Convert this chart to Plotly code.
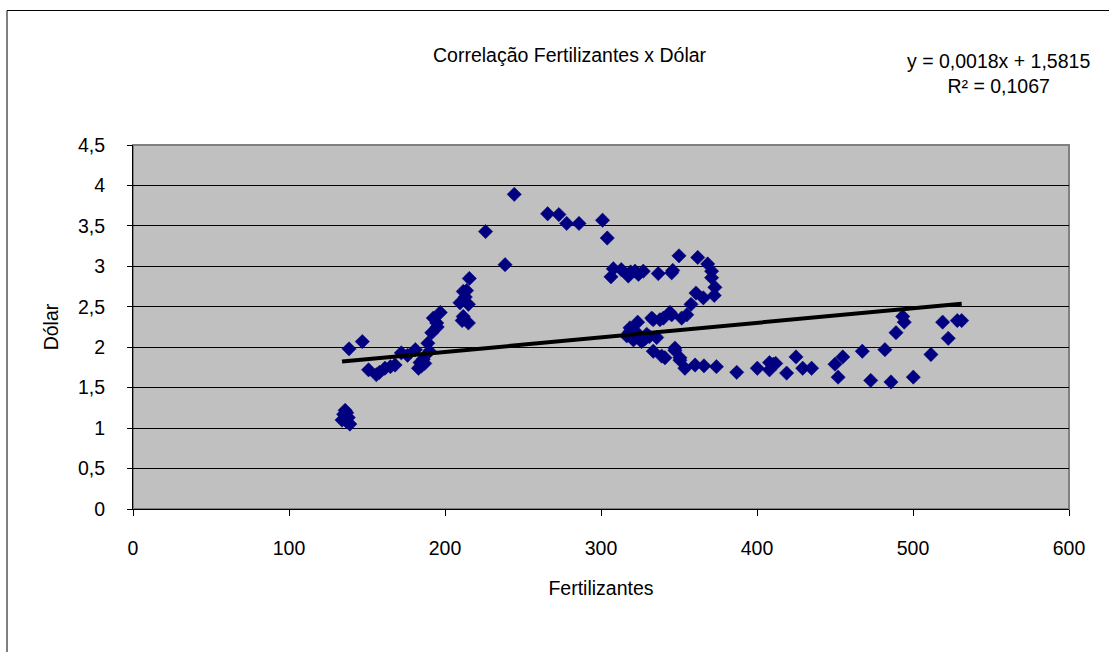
import plotly.graph_objects as go

fertilizantes = [
    134, 135, 136, 137, 138, 139, 137,
    138.5, 147, 151, 156, 158, 161.5, 165, 168, 172, 176, 181, 183, 184, 185, 186, 187,
    189, 190, 191.5, 192.5, 194.7, 197, 195,
    209.6, 211.7, 211, 211.7, 213.8, 215, 215, 215.6, 213,
    226, 238.5, 244.4, 265.8, 273, 278, 285.9, 301, 304,
    306.4, 307.9, 313, 317.5, 319, 321.8, 324, 327.1, 336.7, 345.3, 346,
    350, 362, 368.4, 370.9, 370.9, 373, 372.6, 365.6, 360.9, 357.7, 355, 351.7, 345.3,
    344.2, 340, 337.8, 333.5, 332.5, 323.5, 318.6,
    316.5, 320.8, 326, 329.3, 322.9, 335.7, 318, 324, 328, 331, 319,
    333.5, 338.9, 341, 347.4, 347.4, 350.6, 350.6, 353.8, 360.3, 366, 374, 387,
    400.2, 408, 410.5, 408, 412, 419, 425, 429.3, 435, 450, 455, 452, 467.5, 472.9,
    482, 485.9, 489.1, 493.4, 494.4, 500.2, 511.5, 519, 522.6, 528.4, 531.2,
]
dolar = [
    1.10, 1.17, 1.22, 1.19, 1.13, 1.05, 1.08,
    1.98, 2.07, 1.72, 1.66, 1.69, 1.74, 1.76, 1.78, 1.93, 1.90, 1.97, 1.74, 1.81, 1.77, 1.85, 1.80,
    2.05, 1.95, 2.18, 2.36, 2.30, 2.43, 2.25,
    2.55, 2.38, 2.33, 2.69, 2.70, 2.53, 2.30, 2.85, 2.62,
    3.43, 3.02, 3.89, 3.65, 3.64, 3.53, 3.53, 3.57, 3.35,
    2.87, 2.97, 2.96, 2.88, 2.93, 2.94, 2.90, 2.94, 2.91, 2.92, 2.95,
    3.13, 3.11, 3.03, 2.94, 2.86, 2.74, 2.64, 2.61, 2.67, 2.53, 2.40, 2.36, 2.40,
    2.43, 2.36, 2.34, 2.34, 2.36, 2.31, 2.24,
    2.14, 2.09, 2.07, 2.16, 2.18, 2.12, 2.18, 2.12, 2.10, 2.13, 2.20,
    1.95, 1.89, 1.87, 1.99, 1.96, 1.87, 1.84, 1.74, 1.78, 1.77, 1.76, 1.69,
    1.74, 1.81, 1.79, 1.72, 1.80, 1.68, 1.88, 1.74, 1.74, 1.79, 1.88, 1.63, 1.95, 1.59,
    1.97, 1.57, 2.18, 2.38, 2.31, 1.63, 1.91, 2.31, 2.11, 2.33, 2.33,
]

slope = 0.0018
intercept = 1.5815
r2_text = "0,1067"

title_text = "Correlação Fertilizantes x Dólar"
x_title = "Fertilizantes"
y_title = "Dólar"
x_ticks = [0, 100, 200, 300, 400, 500, 600]
y_ticks = [0, 0.5, 1, 1.5, 2, 2.5, 3, 3.5, 4, 4.5]
y_tick_labels = ["0", "0,5", "1", "1,5", "2", "2,5", "3", "3,5", "4", "4,5"]

FONT = "Liberation Sans, Arial, sans-serif"
FS = 19.5

trend_x = [min(fertilizantes), max(fertilizantes)]
trend_y = [slope * v + intercept for v in trend_x]

fig = go.Figure()
fig.add_trace(go.Scatter(
    x=fertilizantes, y=dolar, mode="markers",
    marker=dict(symbol="diamond", size=11, color="#000080",
                line=dict(color="#000080", width=0.5)),
    showlegend=False,
))
fig.add_trace(go.Scatter(
    x=trend_x, y=trend_y, mode="lines",
    line=dict(color="#000000", width=4),
    showlegend=False,
))

fig.update_layout(
    width=1109, height=652,
    margin=dict(l=133, r=40, t=145, b=143),
    paper_bgcolor="white",
    plot_bgcolor="#C0C0C0",
    font=dict(family=FONT, size=FS, color="#000000"),
    showlegend=False,
    xaxis=dict(
        range=[0, 600], tickvals=x_ticks, ticktext=[str(v) for v in x_ticks],
        showgrid=False, zeroline=False,
        showline=True, linecolor="#000000", linewidth=1,
        ticks="outside", ticklen=6, tickcolor="#000000",
        ticklabelstandoff=16,
        title=dict(text=x_title, standoff=22, font=dict(size=FS)),
        fixedrange=True,
    ),
    yaxis=dict(
        range=[0, 4.5], tickvals=y_ticks, ticktext=y_tick_labels,
        showgrid=True, gridcolor="#000000", gridwidth=1,
        zeroline=False,
        showline=True, linecolor="#000000", linewidth=1,
        ticks="outside", ticklen=5, tickcolor="#000000",
        ticklabelstandoff=18,
        title=dict(text=y_title, standoff=14, font=dict(size=FS)),
        fixedrange=True,
    ),
    shapes=[
        dict(type="rect", xref="paper", yref="paper", x0=0, x1=1, y0=0, y1=1,
             line=dict(color="#808080", width=2), layer="below"),
        dict(type="rect", xref="paper", yref="paper",
             x0=(7 - 133) / 936, x1=(1115 - 133) / 936,
             y0=(509 - 660) / 364, y1=(509 - 10.5) / 364,
             line=dict(color="#000000", width=1), layer="below"),
    ],
    annotations=[
        dict(text=title_text, xref="paper", yref="paper",
             x=(570 - 133) / 936, y=(509 - 55) / 364,
             xanchor="center", yanchor="middle", showarrow=False,
             font=dict(size=FS)),
        dict(text=f"y = {str(slope).replace('.', ',')}x + {str(intercept).replace('.', ',')}<br>R² = {r2_text}",
             xref="paper", yref="paper",
             x=(998 - 133) / 936, y=(509 - 73) / 364,
             xanchor="center", yanchor="middle", align="center", showarrow=False,
             font=dict(size=FS)),
    ],
)

fig.write_html("out.html", config={"displayModeBar": False},
               post_script="document.body.style.margin='0';document.body.style.overflow='hidden';")
